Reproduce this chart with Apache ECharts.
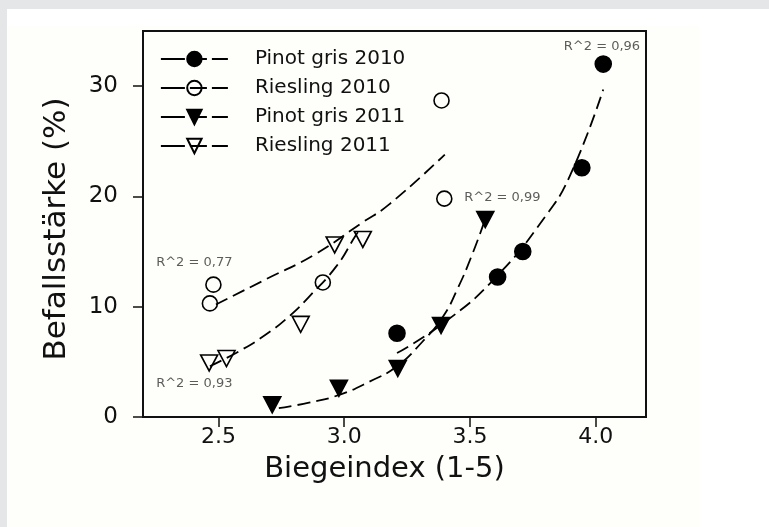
<!DOCTYPE html>
<html>
<head>
<meta charset="utf-8">
<script src="https://cdn.jsdelivr.net/npm/echarts@6/dist/echarts.min.js"></script>
<style>
html,body{margin:0;padding:0;width:769px;height:527px;overflow:hidden;background:#ffffff;}
#bgTop{position:absolute;left:0;top:0;width:769px;height:9px;background:#e4e6e7;}
#bgLeft{position:absolute;left:0;top:0;width:7px;height:527px;background:#e4e6e7;}
#cream{position:absolute;left:7px;top:26px;width:692px;height:501px;background:#fefefa;}
#chart{position:absolute;left:0;top:0;width:769px;height:527px;}
</style>
</head>
<body>
<div id="bgTop"></div><div id="bgLeft"></div><div id="cream"></div>
<div id="chart"></div>
<script>
// ---- Data ----
const xTicks = [2.5, 3.0, 3.5, 4.0];
const yTicks = [0, 10, 20, 30];

const seriesNames = ['Pinot gris 2010', 'Riesling 2010', 'Pinot gris 2011', 'Riesling 2011'];

// measured points [Biegeindex, Befallsstärke]
const pinotGris2010 = [[3.21, 7.6], [3.61, 12.7], [3.71, 15.0], [3.945, 22.6], [4.03, 32.0]];
const riesling2010  = [[2.466, 10.3], [2.48, 12.0], [2.915, 12.2], [3.387, 28.7], [3.398, 19.8]];
const pinotGris2011 = [[2.714, 1.1], [2.979, 2.6], [3.213, 4.4], [3.385, 8.3], [3.561, 17.9]];
const riesling2011  = [[2.463, 4.9], [2.532, 5.3], [2.827, 8.4], [2.962, 15.6], [3.074, 16.1]];

// fitted trend curves
const fitPinotGris2010 = [[3.21, 5.8], [3.4, 8.6], [3.6, 12.6], [3.8, 18.2], [3.9, 22.0], [4.03, 29.7]];
const fitRiesling2010  = [[2.49, 10.2], [2.69, 12.5], [2.88, 14.7], [3.07, 17.6], [3.18, 19.3], [3.40, 23.8]];
const fitPinotGris2011 = [[2.74, 0.8], [2.86, 1.3], [2.98, 2.0], [3.10, 3.2], [3.21, 4.6], [3.31, 6.8], [3.39, 9.0], [3.45, 11.6], [3.51, 14.8], [3.56, 17.9]];
const fitRiesling2011  = [[2.466, 4.6], [2.585, 6.0], [2.69, 7.5], [2.78, 9.1], [2.86, 10.9], [2.97, 13.7], [3.047, 16.5], [3.067, 17.1]];

// R^2 annotations [x, y, text]
const r2Labels = [[4.025, 33.6, 'R^2 = 0,96'], [3.629, 19.9, 'R^2 = 0,99'], [2.404, 14.0, 'R^2 = 0,77'], [2.404, 3.0, 'R^2 = 0,93']];

// ---- Chart ----
const FONT = 'DejaVu Sans';
const chart = echarts.init(document.getElementById('chart'), null, {renderer: 'canvas'});

const dash = [13, 6];
function fitSeries(name, data, symbol, rotate, filled) {
  return {
    name: name, type: 'line', data: data, smooth: true, showSymbol: false,
    symbol: symbol, symbolRotate: rotate, symbolSize: 14,
    silent: true, z: 3,
    itemStyle: {color: filled ? '#000' : 'rgba(0,0,0,0)', borderColor: '#000', borderWidth: 1.5},
    lineStyle: {color: '#000', width: 1.8, type: dash},
    emphasis: {disabled: true}
  };
}
function pointSeries(name, data, symbol, rotate, filled, size) {
  return {
    name: name, type: 'scatter', data: data, symbol: symbol, symbolRotate: rotate,
    symbolSize: size, z: 2,
    itemStyle: {color: filled ? '#000' : 'rgba(0,0,0,0)', borderColor: '#000', borderWidth: 1.6, opacity: 1},
    emphasis: {disabled: true}
  };
}

const option = {
  animation: false,
  backgroundColor: 'transparent',
  textStyle: {fontFamily: FONT},
  grid: {left: 143, right: 123, top: 31, bottom: 110, show: true, borderColor: '#111', borderWidth: 2, backgroundColor: 'transparent'},
  legend: {
    orient: 'vertical', left: 160, top: 49, padding: 0,
    itemWidth: 67, itemHeight: 18, itemGap: 9,
    data: seriesNames,
    textStyle: {fontFamily: FONT, fontSize: 20, color: '#111', lineHeight: 18, padding: [0, 0, 0, 22]},
    lineStyle: {type: [24, 5, 17, 5, 16], width: 1.8, color: '#000'},
    selectedMode: false
  },
  xAxis: {
    type: 'value', min: 2.2, max: 4.2,
    name: 'Biegeindex (1-5)', nameLocation: 'middle', nameGap: 38,
    nameTextStyle: {fontFamily: FONT, fontSize: 29, color: '#111', padding: [0, 20, 0, 0]},
    axisLine: {show: true, onZero: false, lineStyle: {color: '#111', width: 2}},
    axisTick: {show: true, inside: false, length: 10, customValues: xTicks, lineStyle: {color: '#111', width: 1.5}},
    axisLabel: {customValues: xTicks, fontFamily: FONT, fontSize: 22, color: '#111', margin: 9,
      formatter: v => v.toFixed(1)},
    splitLine: {show: false}
  },
  yAxis: {
    type: 'value', min: 0, max: 35,
    name: 'Befallsstärke (%)', nameLocation: 'middle', nameGap: 71, nameRotate: 90,
    nameTextStyle: {fontFamily: FONT, fontSize: 31, color: '#111', padding: [0, 10, 0, 0]},
    axisLine: {show: true, onZero: false, lineStyle: {color: '#111', width: 2}},
    axisTick: {show: true, inside: false, length: 10, customValues: yTicks, lineStyle: {color: '#111', width: 1.5}},
    axisLabel: {customValues: yTicks, fontFamily: FONT, fontSize: 23, color: '#111', margin: 25},
    splitLine: {show: false}
  },
  series: [
    fitSeries(seriesNames[0], fitPinotGris2010, 'circle', 0, true),
    fitSeries(seriesNames[1], fitRiesling2010, 'circle', 0, false),
    fitSeries(seriesNames[2], fitPinotGris2011, 'triangle', 180, true),
    fitSeries(seriesNames[3], fitRiesling2011, 'triangle', 180, false),
    pointSeries(seriesNames[0], pinotGris2010, 'circle', 0, true, 16),
    pointSeries(seriesNames[1], riesling2010, 'circle', 0, false, 15),
    pointSeries(seriesNames[2], pinotGris2011, 'triangle', 180, true, [17, 16]),
    pointSeries(seriesNames[3], riesling2011, 'triangle', 180, false, [17, 16]),
    {
      name: 'R2', type: 'scatter', data: r2Labels, symbol: 'circle', symbolSize: 1, silent: true, z: 5,
      itemStyle: {color: 'rgba(0,0,0,0)'},
      label: {show: true, position: 'inside', formatter: p => p.data[2],
        fontFamily: FONT, fontSize: 13, color: '#333'}
    }
  ]
};
chart.setOption(option);
</script>
</body>
</html>
